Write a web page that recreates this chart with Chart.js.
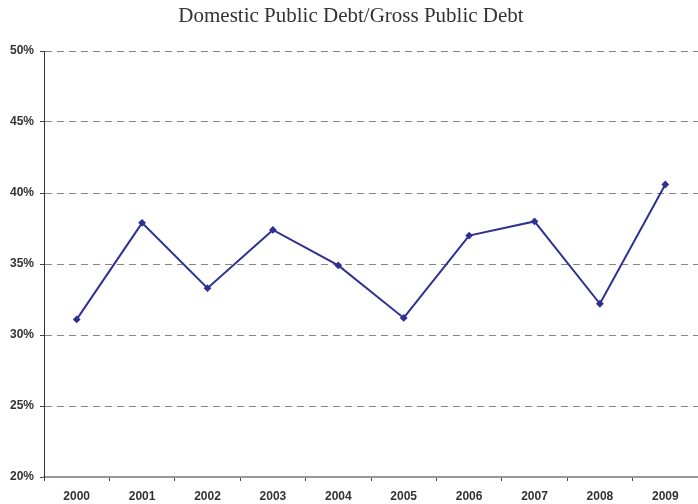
<!DOCTYPE html>
<html>
<head>
<meta charset="utf-8">
<script src="https://cdn.jsdelivr.net/npm/chart.js@4/dist/chart.umd.min.js"></script>
<style>
  html, body { margin: 0; padding: 0; background: #fff; }
  #wrap { width: 698px; height: 504px; }
</style>
</head>
<body>
<div id="wrap"><canvas id="chartDebt"></canvas></div>
<script>
const annees = ["2000", "2001", "2002", "2003", "2004", "2005", "2006", "2007", "2008", "2009"]
const ratioDette = [31.1, 37.9, 33.3, 37.4, 34.9, 31.2, 37.0, 38.0, 32.2, 40.6]
const titre = "Domestic Public Debt/Gross Public Debt"

const config = {
  type: 'line',
  data: {
    labels: annees,
    datasets: [{
      data: ratioDette,
      borderColor: '#2e3192',
      backgroundColor: '#2e3192',
      borderWidth: 2,
      pointStyle: 'rectRot',
      pointRadius: 2.5,
      tension: 0
    }]
  },
  options: {
    responsive: true,
    maintainAspectRatio: false,
    animation: false,
    layout: { autoPadding: false, padding: { left: 0, right: -4, top: 0, bottom: 0 } },
    plugins: {
      legend: { display: false },
      tooltip: { enabled: false },
      title: {
        display: true,
        text: titre,
        color: '#333',
        font: { family: 'Liberation Serif', size: 21, weight: 'normal' },
        padding: { top: 4, bottom: 21.8 }
      }
    },
    scales: {
      x: {
        offset: true,
        grid: { offset: true, drawOnChartArea: false, drawTicks: true, tickLength: 4, tickColor: '#444' },
        border: { color: '#999', width: 2 },
        ticks: { color: '#333', padding: 8, font: { family: 'Liberation Sans', size: 12, weight: 'bold' }, maxRotation: 0 },
        afterFit: (scale) => {
          scale.height = 27
          scale.paddingLeft = 0
          scale.paddingRight = 0
        }
      },
      y: {
        min: 20,
        max: 50,
        grid: { color: '#8c8282', lineWidth: 1, tickLength: 4, tickColor: '#444' },
        border: { color: '#333', width: 1, dash: [7, 5] },
        ticks: {
          stepSize: 5,
          color: '#333',
          padding: 6,
          font: { family: 'Liberation Sans', size: 12, weight: 'bold' },
          callback: (v) => v + '%'
        },
        afterFit: (scale) => { scale.width = 44 }
      }
    }
  }
}

const monGraphique = new Chart(document.getElementById('chartDebt'), config)
</script>
</body>
</html>
